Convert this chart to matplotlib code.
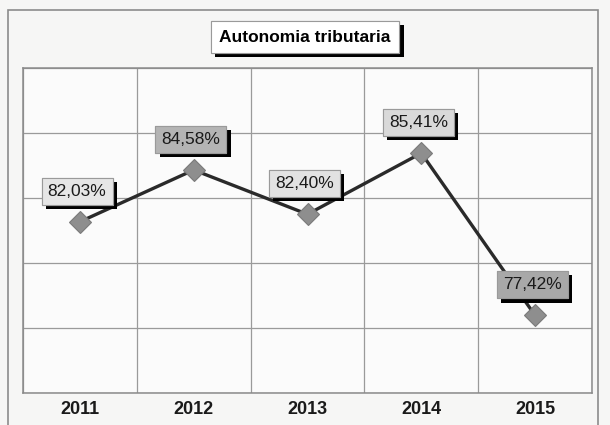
import matplotlib
matplotlib.use("Agg")
import matplotlib.pyplot as plt
import matplotlib.patheffects as pe
from matplotlib.patches import Rectangle
import numpy as np

years = ["2011", "2012", "2013", "2014", "2015"]
autonomia = [82.03, 84.58, 82.40, 85.41, 77.42]
title = "Autonomia tributaria"

plt.rcParams["font.family"] = ["Liberation Sans", "DejaVu Sans"]

# scan-like label fills (some boxes came out darker in the original)
label_fill = ["#e6e6e6", "#b4b4b4", "#e2e2e2", "#d9d9d9", "#a8a8a8"]

fig = plt.figure(figsize=(6.10, 4.25), dpi=100, facecolor="#f6f6f5")
W, H = 610, 425

# outer chart frame
fig.patches.append(Rectangle((8 / W, -0.05), (598 - 8) / W, 1.05 - 10 / H,
                             transform=fig.transFigure, fill=False,
                             edgecolor="#8c8c8c", lw=1.2))

ax = fig.add_axes([23 / W, (H - 393) / H, (592 - 23) / W, (393 - 68) / H])
ax.set_facecolor("#fbfbfb")

x = np.arange(len(years))
ax.plot(x, autonomia, color="#2a2a2a", lw=2.4, zorder=3)
ax.plot(x, autonomia, ls="none", marker="D", ms=11, mfc="#8e8e8e",
        mec="#7a7a7a", mew=0.8, zorder=4)

for i, v in enumerate(autonomia):
    t = ax.annotate(f"{v:.2f}%".replace(".", ","), (x[i], v),
                    xytext=(-2, 22), textcoords="offset points",
                    ha="center", va="center", fontsize=12.5, color="#1a1a1a",
                    zorder=5,
                    bbox=dict(boxstyle="square,pad=0.35", fc=label_fill[i],
                              ec="#9a9a9a", lw=0.8))
    t.get_bbox_patch().set_path_effects(
        [pe.withSimplePatchShadow(offset=(3, -3), shadow_rgbFace="black",
                                  alpha=1.0), pe.Normal()])

ax.set_xlim(-0.5, len(years) - 0.5)
ax.set_ylim(73.6, 89.6)
ax.set_yticks(np.arange(73.6, 89.7, 3.2))
ax.set_yticklabels([])
ax.set_xticks(x)
ax.set_xticklabels(years, fontsize=13, fontweight="bold", color="#1a1a1a")
ax.set_xticks(np.arange(-0.5, len(years)), minor=True)
ax.tick_params(axis="both", which="both", length=0, pad=6)
ax.grid(axis="y", which="major", color="#9a9a9a", lw=0.9)
ax.grid(axis="x", which="minor", color="#9a9a9a", lw=0.9)
ax.set_axisbelow(True)
for s in ax.spines.values():
    s.set_color("#8a8a8a")
    s.set_linewidth(1.1)

tt = fig.text(305 / W, 1 - 37 / H, title, ha="center", va="center",
              fontsize=12.5, fontweight="bold", color="black",
              bbox=dict(boxstyle="square,pad=0.5", fc="white",
                        ec="#9a9a9a", lw=0.8))
tt.get_bbox_patch().set_path_effects(
    [pe.withSimplePatchShadow(offset=(3, -3), shadow_rgbFace="black",
                              alpha=1.0), pe.Normal()])

fig.savefig("out.png", dpi=100, facecolor=fig.get_facecolor())
